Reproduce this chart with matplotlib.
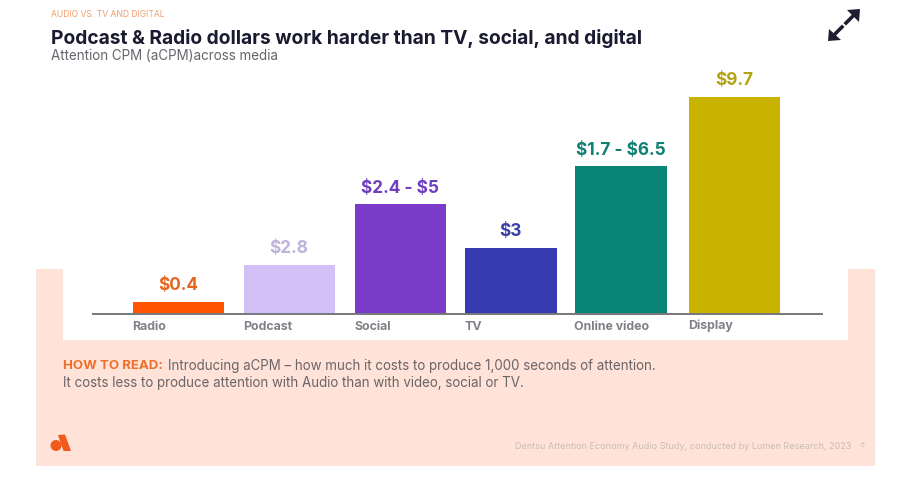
import matplotlib
matplotlib.use("Agg")
import matplotlib.pyplot as plt
from matplotlib.patches import Rectangle, Ellipse, Polygon

categories = ["Radio", "Podcast", "Social", "TV", "Online video", "Display"]
bar_heights = [0.54, 2.2, 4.9, 2.95, 6.6, 9.7]
value_labels = [r"\$0.4", r"\$2.8", r"\$2.4 - \$5", r"\$3", r"\$1.7 - \$6.5", r"\$9.7"]
bar_colors = ["#FF5500", "#D2C0F7", "#7A3BC8", "#363BB0", "#088577", "#C9B200"]
label_colors = ["#E8651F", "#BDB3DC", "#6F3FBF", "#3C3FA5", "#0F8073", "#B5A215"]
slots = [0, 1, 2, 2.99, 3.98, 5.0]

W, H = 904, 496
plt.rcParams["font.family"] = ["Inter", "DejaVu Sans"]
fig = plt.figure(figsize=(W / 100, H / 100), dpi=100, facecolor="white")

def fx(x): return x / W
def fy(y): return 1 - y / H
def pts(seq): return [(fx(x), fy(y)) for x, y in seq]

PEACH = "#FFE3D8"
fig.add_artist(Rectangle((fx(36), fy(466)), 839 / W, 197 / H, transform=fig.transFigure, fc=PEACH, ec="none", zorder=0))
fig.add_artist(Rectangle((fx(63), fy(340)), 785 / W, 71 / H, transform=fig.transFigure, fc="white", ec="none", zorder=0.5))

# chart axes: baseline y=314, spans x 92..823
ax = fig.add_axes([fx(92), fy(314), 731 / W, 244 / H], facecolor="none", zorder=2)
bars = ax.bar(slots, bar_heights, width=0.82, color=bar_colors, zorder=2)
ax.set_xlim(-0.778, 5.796)
ax.set_ylim(0, 10.9)
for s in ("top", "left", "right"):
    ax.spines[s].set_visible(False)
ax.spines["bottom"].set_color("#77777C")
ax.spines["bottom"].set_linewidth(1.4)
ax.spines["bottom"].set_capstyle("butt")
ax.set_yticks([])
ax.set_xticks([])
for b, name, lab, c in zip(bars, categories, value_labels, label_colors):
    ax.annotate(lab, (b.get_x() + b.get_width() / 2 - 0.005, b.get_height()), xytext=(0, 7.5), textcoords="offset pixels",
                ha="center", va="bottom", fontsize=12.4, fontweight="bold", color=c)
    ax.annotate(name, (b.get_x(), 0), xytext=(-1, -15.5), textcoords="offset pixels",
                ha="left", va="baseline", fontsize=8.9, fontweight="bold", color="#808087")

def t(x, y, s, **kw):
    fig.text(fx(x), fy(y), s, va="center", ha=kw.pop("ha", "left"), **kw)

t(51, 14.5, "AUDIO VS. TV AND DIGITAL", fontsize=6.2, color="#F0A070")
t(51, 38, "Podcast & Radio dollars work harder than TV, social, and digital", fontsize=13.8, fontweight="bold", color="#1A1A30")
t(51, 56, "Attention CPM (aCPM)across media", fontsize=9.7, color="#65656E")
t(63, 366, "HOW TO READ:", fontsize=9.5, fontweight="bold", color="#EE6F2B", zorder=3)
t(168, 366, "Introducing aCPM – how much it costs to produce 1,000 seconds of attention.", fontsize=9.62, color="#6B6468", zorder=3)
t(63, 383, "It costs less to produce attention with Audio than with video, social or TV.", fontsize=9.62, color="#6B6468", zorder=3)
t(851, 446.5, "Dentsu Attention Economy Audio Study, conducted by Lumen Research, 2023", fontsize=6.53, color="#C9BDB6", ha="right", zorder=3)
t(863, 445, "6", fontsize=4.5, color="#C9BDB6", ha="center", zorder=3)

# expand icon
DARK = "#1E1E30"
fig.add_artist(Polygon(pts([(860, 9), (847, 10), (859, 22)]), closed=True, transform=fig.transFigure, fc=DARK, ec="none", zorder=3))
fig.add_artist(Polygon(pts([(828, 41), (829, 29), (841, 40)]), closed=True, transform=fig.transFigure, fc=DARK, ec="none", zorder=3))
fig.add_artist(plt.Line2D([fx(853), fx(846)], [fy(16), fy(23)], transform=fig.transFigure, lw=2.6, color=DARK, zorder=3))
fig.add_artist(plt.Line2D([fx(835), fx(842)], [fy(34), fy(27)], transform=fig.transFigure, lw=2.6, color=DARK, zorder=3))

# logo
ORANGE = "#F15A1C"
fig.add_artist(Polygon(pts([(58, 435), (65, 434.5), (71, 451), (63.5, 451), (60, 441)]), closed=True,
                       transform=fig.transFigure, fc=ORANGE, ec="none", zorder=3))
fig.add_artist(Ellipse((fx(56), fy(445.5)), 11 / W, 11 / H, transform=fig.transFigure, fc=ORANGE, ec="none", zorder=3))

fig.savefig("out.png", dpi=100, facecolor="white")
